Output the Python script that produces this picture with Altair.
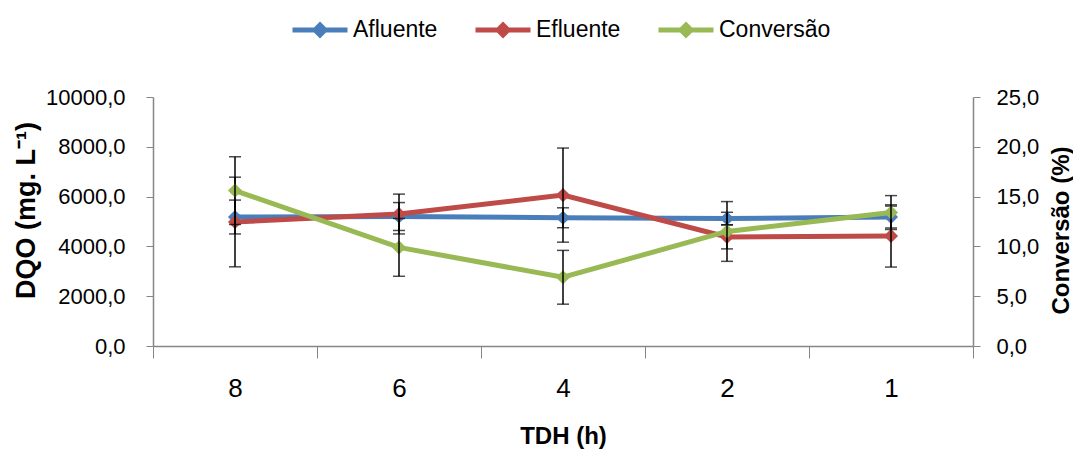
import altair as alt
import pandas as pd

tdh = ["8", "6", "4", "2", "1"]
series = ["Afluente", "Efluente", "Conversão"]
colors = ["#4A7EBB", "#BE4B48", "#98B954"]

afluente = [5180, 5200, 5150, 5120, 5180]
afluente_err = [680, 560, 400, 250, 440]
efluente = [4980, 5300, 6060, 4380, 4420]
efluente_err = [1800, 800, 1890, 480, 1250]
conversao = [15.6, 9.9, 6.9, 11.5, 13.4]
conversao_err = [3.4, 2.9, 2.7, 3.0, 1.7]

left_df = pd.DataFrame({
    "tdh": tdh * 2,
    "serie": ["Afluente"] * 5 + ["Efluente"] * 5,
    "v": afluente + efluente,
    "e": afluente_err + efluente_err,
})
left_df["lo"] = left_df["v"] - left_df["e"]
left_df["hi"] = left_df["v"] + left_df["e"]

right_df = pd.DataFrame({"tdh": tdh, "serie": ["Conversão"] * 5, "v": conversao, "e": conversao_err})
right_df["lo"] = right_df["v"] - right_df["e"]
right_df["hi"] = right_df["v"] + right_df["e"]

FONT = "Liberation Sans, Arial, sans-serif"
GRAY = "#868686"

legend_path = "M-1,0H1M0,-0.18L0.18,0L0,0.18L-0.18,0ZM0,-0.08L0.08,0L0,0.08L-0.08,0Z"

color = alt.Color(
    "serie:N",
    scale=alt.Scale(domain=series, range=colors),
    legend=alt.Legend(
        title=None, orient="none", direction="horizontal",
        legendX=137, legendY=-97,
        symbolType=legend_path, symbolSize=3025, symbolStrokeWidth=5,
        labelFont=FONT, labelFontSize=23, labelColor="black",
        labelOffset=3, columnPadding=27,
    ),
)

x = alt.X(
    "tdh:N", sort=tdh, bandPosition=0.5,
    scale=alt.Scale(type="band", paddingInner=0, paddingOuter=0),
    axis=alt.Axis(
        title="TDH (h)", labelAngle=0, tickBand="extent", tickSize=12,
        domainColor=GRAY, tickColor=GRAY, domainWidth=1.5,
        labelFont=FONT, labelFontSize=26, labelColor="black", labelPadding=17,
        titleFont=FONT, titleFontWeight="bold", titleFontSize=24, titleColor="black",
        titleY=90, titleBaseline="middle",
    ),
)

yl_axis = alt.Axis(
    title="DQO (mg. L⁻¹)", values=[0, 2000, 4000, 6000, 8000, 10000],
    labelExpr="replace(format(datum.value, '.1f'), '.', ',')",
    orient="left", tickSize=7, domainColor=GRAY, tickColor=GRAY, domainWidth=1.5,
    labelFont=FONT, labelFontSize=22, labelColor="black", labelPadding=21,
    titleFont=FONT, titleFontWeight="bold", titleFontSize=27, titleColor="black",
    titleX=-127, titleY=113, titleAngle=270, titleBaseline="middle", titleAlign="center",
)
yr_axis = alt.Axis(
    title="Conversão (%)", values=[0, 5, 10, 15, 20, 25],
    labelExpr="replace(format(datum.value, '.1f'), '.', ',')",
    orient="right", tickSize=7, domainColor=GRAY, tickColor=GRAY, domainWidth=1.5,
    labelFont=FONT, labelFontSize=22, labelColor="black", labelPadding=16,
    titleFont=FONT, titleFontWeight="bold", titleFontSize=24, titleColor="black",
    titleX=88, titleY=133, titleAngle=270, titleBaseline="middle", titleAlign="center",
)

ysl = alt.Scale(domain=[0, 10000])
ysr = alt.Scale(domain=[0, 25])

lb = alt.Chart(left_df)
left = alt.layer(
    lb.mark_line(strokeWidth=5).encode(x=x, y=alt.Y("v:Q", scale=ysl, axis=yl_axis), color=color, detail="serie:N"),
    lb.mark_point(shape="diamond", filled=True, size=200, opacity=1).encode(x=x, y=alt.Y("v:Q", scale=ysl), color=color),
    lb.mark_rule(color="black", strokeWidth=1.5).encode(x=x, y=alt.Y("lo:Q", scale=ysl), y2="hi:Q"),
    lb.mark_tick(color="black", thickness=1.5, size=12).encode(x=x, y=alt.Y("lo:Q", scale=ysl)),
    lb.mark_tick(color="black", thickness=1.5, size=12).encode(x=x, y=alt.Y("hi:Q", scale=ysl)),
)

rb = alt.Chart(right_df)
right = alt.layer(
    rb.mark_line(strokeWidth=5).encode(x=x, y=alt.Y("v:Q", scale=ysr, axis=yr_axis), color=color),
    rb.mark_point(shape="diamond", filled=True, size=200, opacity=1).encode(x=x, y=alt.Y("v:Q", scale=ysr), color=color),
    rb.mark_rule(color="black", strokeWidth=1.5).encode(x=x, y=alt.Y("lo:Q", scale=ysr), y2="hi:Q"),
    rb.mark_tick(color="black", thickness=1.5, size=12).encode(x=x, y=alt.Y("lo:Q", scale=ysr)),
    rb.mark_tick(color="black", thickness=1.5, size=12).encode(x=x, y=alt.Y("hi:Q", scale=ysr)),
)

chart = alt.layer(left, right).resolve_scale(y="independent").properties(
    width=820, height=249,
    padding={"left": 145, "top": 89, "right": 100, "bottom": 105},
    autosize=alt.AutoSizeParams(type="none"),
).configure_view(stroke=None).configure_axis(grid=False)

chart.save("out.html", embed_options={"renderer": "svg", "actions": False})
